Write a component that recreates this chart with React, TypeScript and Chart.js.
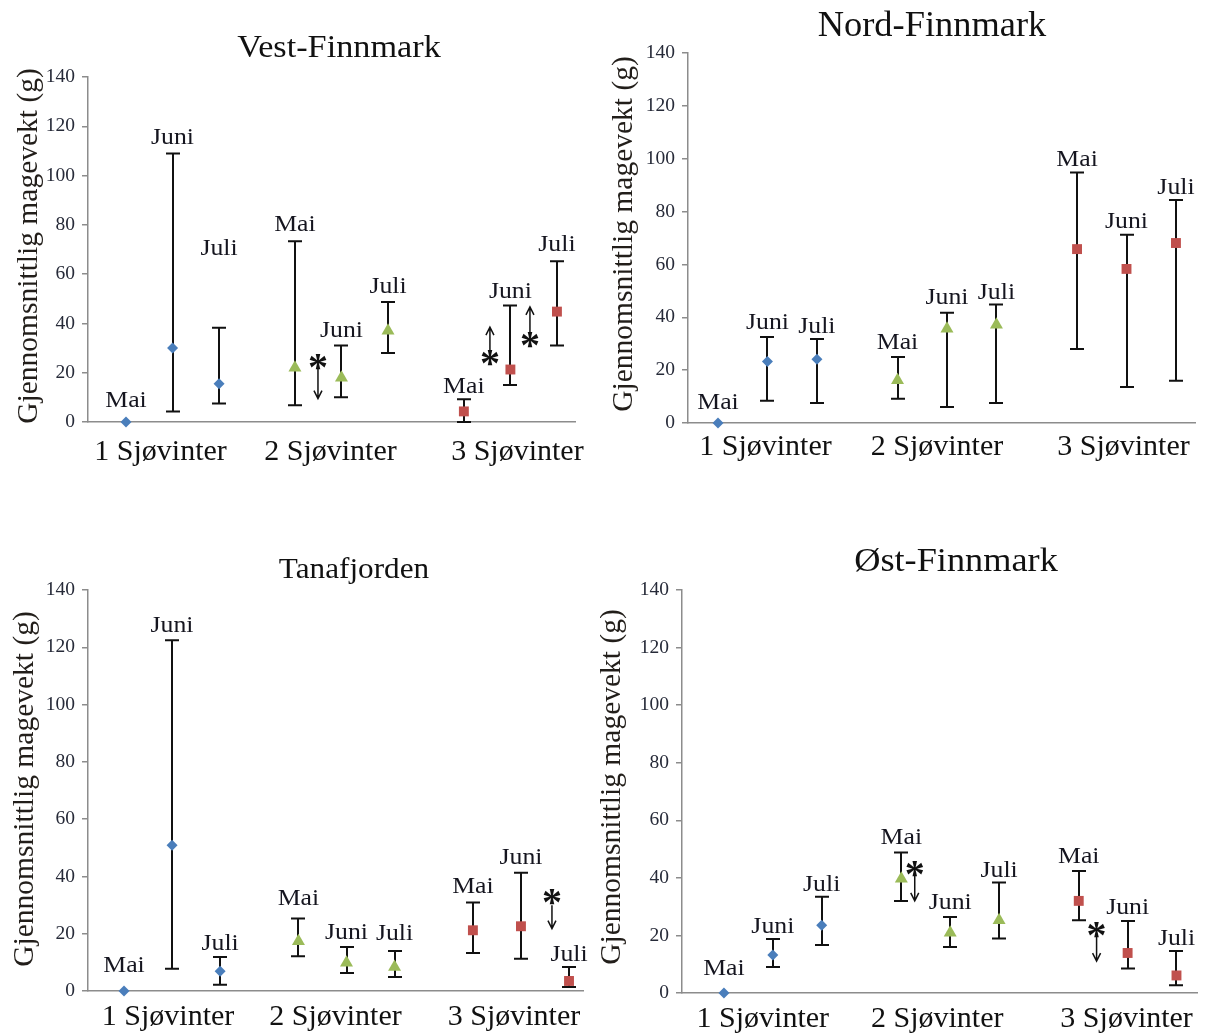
import React, { useEffect, useRef } from 'react';
import { Chart, registerables } from 'chart.js';

Chart.register(...registerables);

// ---------- shared categories ----------
const GROUP_LABELS = ['1 Sjøvinter', '2 Sjøvinter', '3 Sjøvinter'];
const MONTH_LABELS = ['Mai', 'Juni', 'Juli'];
// x position (data units) of Mai/Juni/Juli for each sea-winter group
const X_POS = [1, 2, 3, 4.63, 5.63, 6.63, 8.26, 9.26, 10.26];
const Y_MIN = 0;
const Y_MAX = 140;
const Y_STEP = 20;
const Y_TITLE = 'Gjennomsnittlig magevekt (g)';

// ---------- Vest-Finnmark ----------
const VEST_MEAN = [0, 30, 15.5, 22, 18, 37, 4.3, 21.3, 44.8];
const VEST_LOW = [null, 4.3, 7.5, 6.8, 10, 28, 0, 15, 31];
const VEST_HIGH = [null, 109, 38.2, 73.3, 31, 48.7, 9.2, 47.3, 65.2];
const VEST_LABEL_Y = [6, 112.8, 67.8, 77.5, 34.6, 52.3, 11.7, 50.2, 69.5];
const VEST_SIG = [
  { x: 5.125, star: 24.5, from: 21.5, to: 9.5 },
  { x: 8.82, star: 26, from: 27.5, to: 38.5 },
  { x: 9.68, star: 33.3, from: 35.3, to: 46.7 },
];

// ---------- Nord-Finnmark ----------
const NORD_MEAN = [0, 23.3, 24.1, 16.2, 35.7, 37.2, 65.8, 58.3, 68.1];
const NORD_LOW = [null, 8.4, 7.6, 9.2, 6.1, 7.6, 28, 13.6, 16];
const NORD_HIGH = [null, 32.5, 31.8, 25, 41.7, 44.8, 94.8, 71.2, 84.4];
const NORD_LABEL_Y = [5.3, 35.6, 34, 28, 45.1, 47, 97.1, 73.6, 86.6];
const NORD_SIG: { x: number; star: number; from: number; to: number }[] = [];

// ---------- Tanafjorden ----------
const TANA_MEAN = [0, 50.9, 6.9, 17.4, 9.9, 8.4, 21.2, 22.6, 3.5];
const TANA_LOW = [null, 7.8, 2.2, 12.1, 6.3, 4.9, 13.3, 11.3, 1.4];
const TANA_HIGH = [null, 122.5, 11.9, 25.3, 15.4, 14, 30.9, 41.3, 8.4];
const TANA_LABEL_Y = [6.6, 125.4, 14.4, 29.9, 18.3, 17.7, 34.2, 44.3, 10.5];
const TANA_SIG = [{ x: 9.905, star: 32.8, from: 29.9, to: 21.8 }];

// ---------- Øst-Finnmark ----------
const OST_MEAN = [0, 13.2, 23.5, 39.7, 20.9, 25.3, 32, 13.9, 6.1];
const OST_LOW = [null, 9, 16.7, 32, 16, 18.9, 25.3, 8.5, 2.7];
const OST_HIGH = [null, 18.8, 33.4, 48.8, 26.4, 38.4, 42.4, 25, 14.6];
const OST_LABEL_Y = [6.1, 20.9, 35.5, 51.7, 29.3, 40.3, 45.2, 27.3, 16.6];
const OST_SIG = [
  { x: 4.904, star: 43.2, from: 41.5, to: 32 },
  { x: 8.625, star: 21.8, from: 20, to: 11.1 },
];

// ---------- styles ----------
const SERIF = "'Liberation Serif', 'Times New Roman', serif";
const GROUP_COLORS = ['#4A7EBB', '#9BBB59', '#C0504D'];
const GROUP_POINT_STYLE = ['rectRot', 'triangle', 'rect'];
const GROUP_POINT_RADIUS = [5.5, 7.5, 7];
const AXIS_COLOR = '#8c8c8c';

type Sig = { x: number; star: number; from: number; to: number };
type PanelSpec = {
  title: string;
  mean: number[];
  low: (number | null)[];
  high: (number | null)[];
  labelY: number[];
  sig: Sig[];
  left: number; top: number; w: number; h: number;
  area: { l: number; r: number; t: number; b: number };
  xMin: number; xMax: number;
  titleX: number; titleY: number; titleSize: number; titleSx: number;
  yTitleX: number; yTitleY: number;
  groupLabelY: number;
  groupLabelDx: number[];
};

const PANELS: PanelSpec[] = [
  {
    title: 'Vest-Finnmark', mean: VEST_MEAN, low: VEST_LOW, high: VEST_HIGH, labelY: VEST_LABEL_Y, sig: VEST_SIG,
    left: 0, top: 0, w: 600, h: 480, area: { l: 88, r: 575, t: 77, b: 422 },
    xMin: 0.1835, xMax: 10.648,
    titleX: 339, titleY: 57, titleSize: 32, titleSx: 1.07,
    yTitleX: 29, yTitleY: 246, groupLabelY: 460, groupLabelDx: [-12, -11, 7],
  },
  {
    title: 'Nord-Finnmark', mean: NORD_MEAN, low: NORD_LOW, high: NORD_HIGH, labelY: NORD_LABEL_Y, sig: NORD_SIG,
    left: 600, top: 0, w: 605, h: 480, area: { l: 88, r: 595, t: 53, b: 423 },
    xMin: 0.3934, xMax: 10.645,
    titleX: 332, titleY: 36, titleSize: 35, titleSx: 1.04,
    yTitleX: 24, yTitleY: 234, groupLabelY: 455, groupLabelDx: [-2, -10, -3],
  },
  {
    title: 'Tanafjorden', mean: TANA_MEAN, low: TANA_LOW, high: TANA_HIGH, labelY: TANA_LABEL_Y, sig: TANA_SIG,
    left: 0, top: 540, w: 600, h: 495, area: { l: 88, r: 583, t: 50, b: 451 },
    xMin: 0.251, xMax: 10.551,
    titleX: 354, titleY: 38, titleSize: 30, titleSx: 1.04,
    yTitleX: 25, yTitleY: 249, groupLabelY: 485, groupLabelDx: [-4, -11, -7],
  },
  {
    title: 'Øst-Finnmark', mean: OST_MEAN, low: OST_LOW, high: OST_HIGH, labelY: OST_LABEL_Y, sig: OST_SIG,
    left: 600, top: 540, w: 605, h: 495, area: { l: 82, r: 598, t: 50, b: 453 },
    xMin: 0.1415, xMax: 10.69,
    titleX: 356, titleY: 31, titleSize: 33, titleSx: 1.1,
    yTitleX: 12, yTitleY: 247, groupLabelY: 487, groupLabelDx: [-10, -13, -1],
  },
];

function drawText(
  ctx: CanvasRenderingContext2D, text: string, x: number, y: number,
  font: string, color: string, sx = 1, rot = 0, baseline: CanvasTextBaseline = 'alphabetic'
) {
  ctx.save();
  ctx.font = font;
  ctx.fillStyle = color;
  ctx.textAlign = 'center';
  ctx.textBaseline = baseline;
  ctx.translate(x, y);
  if (rot) ctx.rotate(rot);
  ctx.scale(sx, 1);
  ctx.fillText(text, 0, 0);
  ctx.restore();
}

function makeConfig(spec: PanelSpec): any {
  const datasets = GROUP_LABELS.map((g, gi) => ({
    label: g,
    data: MONTH_LABELS.map((m, mi) => ({ x: X_POS[gi * 3 + mi], y: spec.mean[gi * 3 + mi] })),
    pointStyle: GROUP_POINT_STYLE[gi],
    pointRadius: GROUP_POINT_RADIUS[gi],
    backgroundColor: GROUP_COLORS[gi],
    borderColor: GROUP_COLORS[gi],
    borderWidth: 0,
    pointBorderWidth: 0,
    showLine: false,
    clip: false,
  }));

  const errorBars = {
    id: 'errorBars',
    beforeDatasetsDraw(chart: any) {
      const { ctx, scales } = chart;
      const xs = scales.x, ys = scales.y;
      ctx.save();
      ctx.strokeStyle = '#111';
      ctx.lineWidth = 2;
      for (let i = 0; i < spec.mean.length; i++) {
        const lo = spec.low[i], hi = spec.high[i];
        if (lo == null || hi == null) continue;
        const px = Math.round(xs.getPixelForValue(X_POS[i]));
        const pl = ys.getPixelForValue(lo);
        const ph = ys.getPixelForValue(hi);
        ctx.beginPath();
        ctx.moveTo(px, pl); ctx.lineTo(px, ph);
        ctx.moveTo(px - 7, pl); ctx.lineTo(px + 7, pl);
        ctx.moveTo(px - 7, ph); ctx.lineTo(px + 7, ph);
        ctx.stroke();
      }
      ctx.restore();
    },
  };

  const texts = {
    id: 'texts',
    afterDraw(chart: any) {
      const { ctx, scales } = chart;
      const xs = scales.x, ys = scales.y;
      // title
      drawText(ctx, spec.title, spec.titleX, spec.titleY, `${spec.titleSize}px ${SERIF}`, '#111', spec.titleSx);
      // y title
      drawText(ctx, Y_TITLE, spec.yTitleX, spec.yTitleY, `29.5px ${SERIF}`, '#221e1a', 1, -Math.PI / 2, 'middle');
      // group labels
      GROUP_LABELS.forEach((g, gi) => {
        const px = xs.getPixelForValue(X_POS[gi * 3 + 1]) + spec.groupLabelDx[gi];
        drawText(ctx, g, px, spec.groupLabelY, `30px ${SERIF}`, '#111');
      });
      // month labels
      spec.labelY.forEach((ly, i) => {
        const px = xs.getPixelForValue(X_POS[i]);
        const py = ys.getPixelForValue(ly);
        drawText(ctx, MONTH_LABELS[i % 3], px, py, `23px ${SERIF}`, '#15151f', 1.12);
      });
      // significance markers
      spec.sig.forEach((s) => {
        const px = xs.getPixelForValue(s.x);
        const pf = ys.getPixelForValue(s.from);
        const pt = ys.getPixelForValue(s.to);
        const dir = pt > pf ? 1 : -1;
        ctx.save();
        ctx.strokeStyle = '#111';
        ctx.lineWidth = 1.5;
        ctx.beginPath();
        ctx.moveTo(px, pf); ctx.lineTo(px, pt);
        ctx.moveTo(px - 4, pt - dir * 8); ctx.lineTo(px, pt); ctx.lineTo(px + 4, pt - dir * 8);
        ctx.stroke();
        ctx.restore();
        const sy = ys.getPixelForValue(s.star);
        ctx.save();
        ctx.font = `bold 40px ${SERIF}`;
        const m = ctx.measureText('*');
        const cy = sy + (m.actualBoundingBoxAscent - m.actualBoundingBoxDescent) / 2;
        ctx.restore();
        drawText(ctx, '*', px, cy, `bold 40px ${SERIF}`, '#111');
      });
    },
  };

  return {
    type: 'scatter',
    data: { datasets },
    options: {
      animation: false,
      responsive: false,
      maintainAspectRatio: false,
      devicePixelRatio: 1,
      layout: { padding: { top: spec.area.t, right: spec.w - spec.area.r, bottom: 0, left: 0 } },
      plugins: { legend: { display: false }, tooltip: { enabled: false }, title: { display: false } },
      scales: {
        x: {
          type: 'linear',
          min: spec.xMin,
          max: spec.xMax,
          grid: { display: false, drawTicks: false },
          border: { display: true, color: AXIS_COLOR, width: 1.5 },
          ticks: { display: false },
          afterFit: (s: any) => { s.height = spec.h - spec.area.b; },
        },
        y: {
          min: Y_MIN,
          max: Y_MAX,
          ticks: {
            stepSize: Y_STEP,
            padding: 7,
            color: '#262a38',
            font: { family: SERIF, size: 19.5 },
          },
          grid: { display: true, drawOnChartArea: false, drawTicks: true, tickLength: 6, color: AXIS_COLOR, lineWidth: 1.5 },
          border: { display: true, color: AXIS_COLOR, width: 1.5 },
          afterFit: (s: any) => { s.width = spec.area.l; },
        },
      },
    },
    plugins: [errorBars, texts],
  };
}

function Panel({ spec }: { spec: PanelSpec }) {
  const ref = useRef<HTMLCanvasElement>(null);
  useEffect(() => {
    const chart = new Chart(ref.current as HTMLCanvasElement, makeConfig(spec));
    return () => chart.destroy();
  }, [spec]);
  return (
    <canvas
      ref={ref}
      width={spec.w}
      height={spec.h}
      style={{ position: 'absolute', left: spec.left, top: spec.top, width: spec.w, height: spec.h }}
    />
  );
}

export default function App() {
  return (
    <div style={{ position: 'absolute', left: 0, top: 0, width: 1205, height: 1035, background: '#fff' }}>
      {PANELS.map((p) => (
        <Panel key={p.title} spec={p} />
      ))}
    </div>
  );
}
